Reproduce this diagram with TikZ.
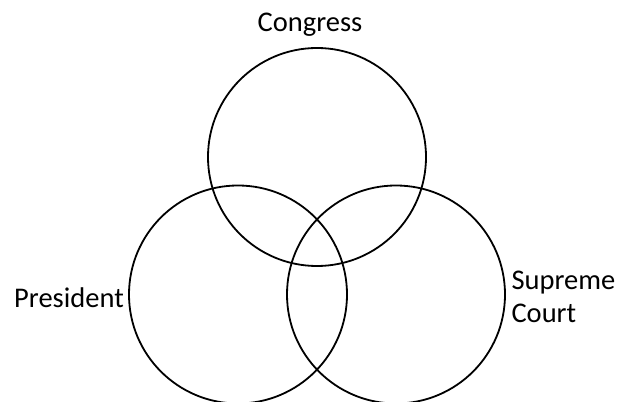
\documentclass[tikz,border=0pt]{standalone}
\usepackage{fontspec}
\setmainfont{Carlito}
\begin{document}
\begin{tikzpicture}[x=1pt,y=1pt]
  \useasboundingbox (0,0) rectangle (620,401);
  \tikzset{branch/.style={line width=1.8pt},
    lbl/.style={font=\fontsize{28.5}{33}\selectfont}}
  \coordinate (Oc) at (317,244);
  \coordinate (Op) at (238,106.5);
  \coordinate (Os) at (396,106.5);
  \draw[branch] (Oc) circle (109);
  \draw[branch] (Op) circle (109);
  \draw[branch] (Os) circle (109);
  \node[lbl] (congress) at (310,376) {Congress};
  \node[lbl] (president) at (69,103) {President};
  \node[lbl,align=left,anchor=west] (court) at (508,104) {Supreme\\Court};
\end{tikzpicture}
\end{document}
